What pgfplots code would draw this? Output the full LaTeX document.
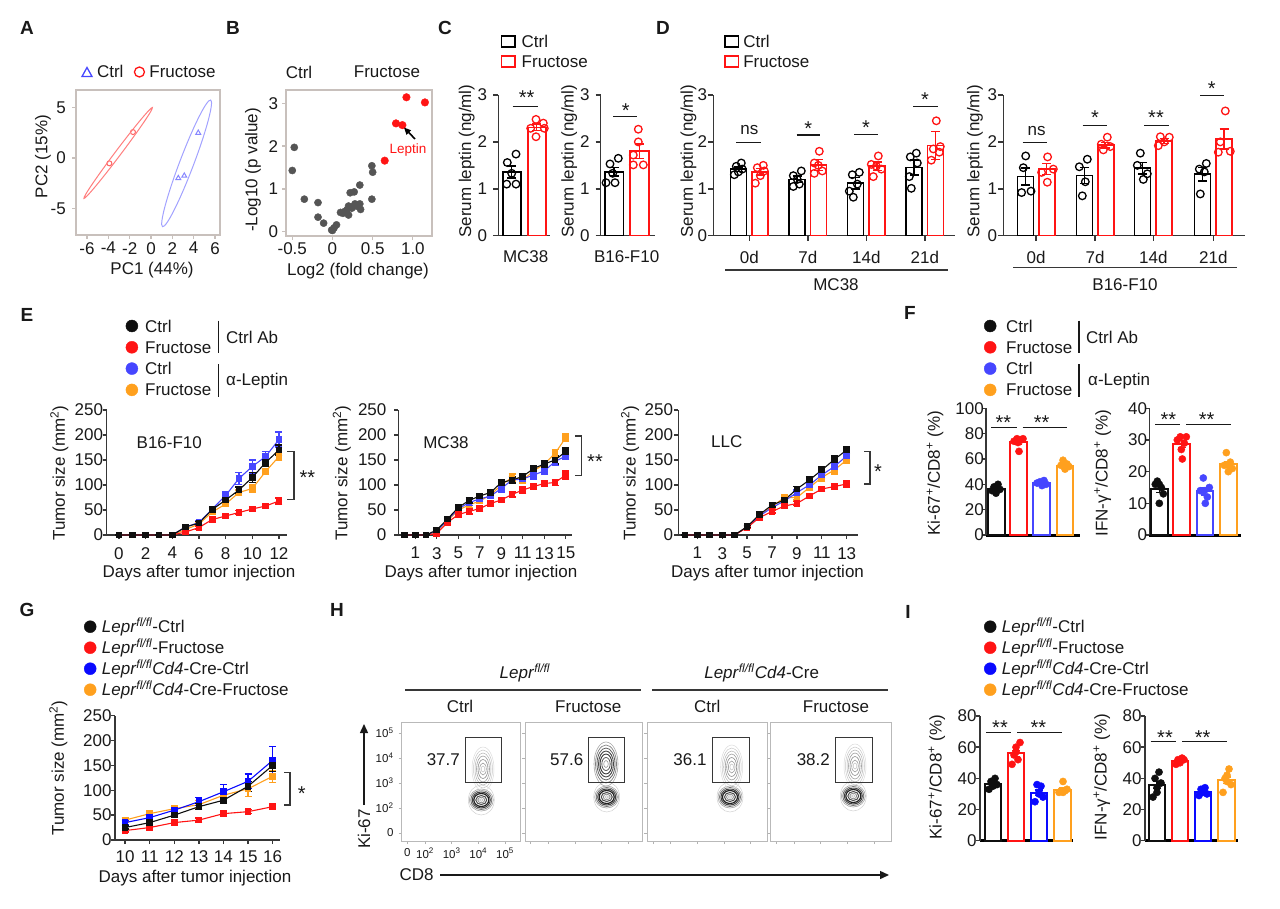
\documentclass[border=0pt]{standalone}
\usepackage{pgfplots}
\usepackage{pgfplotstable}
\pgfplotsset{compat=1.18}
\usepackage{fontspec}
\setmainfont{Liberation Sans}
\usetikzlibrary{arrows.meta}

\definecolor{cR}{RGB}{255,20,20}
\definecolor{cB}{RGB}{70,70,255}
\definecolor{cB2}{RGB}{10,10,255}
\definecolor{cO}{RGB}{255,160,30}
\definecolor{cK}{RGB}{15,15,15}
\definecolor{axc}{RGB}{55,55,55}
\definecolor{frc}{RGB}{200,192,188}
\definecolor{txt}{RGB}{25,25,25}
\definecolor{ptg}{RGB}{85,85,85}

\newcommand\fs{\fontsize{17}{20}\selectfont}
\newcommand\fsm{\fontsize{13.5}{16}\selectfont}
\newcommand\fst{\fontsize{11.5}{13}\selectfont}
\newcommand\fsl{\fontsize{19}{22}\selectfont\bfseries}
\newcommand\fsa{\fontsize{20}{22}\selectfont}

\pgfplotsset{
  every axis/.append style={scale only axis, clip=false, anchor=south west,
    /pgf/number format/assume math mode=true,
    tick label style={font=\fs, text=txt, inner sep=1pt},
    label style={font=\fs, text=txt}},
  yl/.style 2 args={ylabel style={at={(axis description cs:#1,#2)}, anchor=center}},
  xl/.style 2 args={xlabel style={at={(axis description cs:#1,#2)}, anchor=center}},
  barax/.style={axis x line*=bottom, axis y line*=left, axis line style={-, line width=1.5pt, axc},
    tick style={line width=1.5pt, axc}, tick align=outside, major tick length=5pt,
    xmin=0, ymin=0, xtick=\empty},
  fax/.style={axis x line*=bottom, axis y line*=left, axis line style={-, line width=1.5pt, axc},
    x axis line style={line width=3pt, black}, tick style={line width=1.5pt, axc}, tick align=outside,
    major tick length=4pt, xmin=0, ymin=0, xtick=\empty},
  curax/.style={axis x line*=bottom, axis y line*=left, axis line style={-, line width=1.5pt, axc},
    tick style={line width=1.3pt, axc}, tick align=outside, major tick length=4pt,
    ymin=0, ymax=250, ytick={0,50,...,250}},
  boxax/.style={axis line style={line width=1.3pt, frc}, tick style={line width=1.2pt, frc},
    tick align=outside, major tick length=4pt, tick pos=left},
  flowax/.style={xmin=0, ymin=0, ymax=119, height=119pt, axis line style={line width=1pt, gray!55},
    tick style={line width=0.8pt, gray!60}, tick align=outside, major tick length=3pt, tick pos=left,
    xtick={5.6,23.3,50,76.6,103.3}, ytick={8,33,58,83,108}, xticklabels={}, yticklabels={}},
  legax/.style={hide axis, width=1pt, height=1pt, xmin=0, xmax=1, ymin=0, ymax=1, anchor=north west,
    legend cell align=left,
    legend style={at={(0,1)}, anchor=north west, draw=none, fill=none, inner sep=0pt, outer sep=0pt,
      font=\fs, text=txt, row sep=#1, nodes={inner sep=0pt, text height=13pt, text depth=1pt}}},
  cbar/.style={ybar, bar shift=0pt, draw=#1, fill=white, line width=1.6pt,
    error bars/.cd, y dir=both, y explicit, error bar style={line width=1.5pt, #1},
    error mark options={rotate=90, mark size=4.5pt, line width=1.5pt, #1}},
  cpts/.style={only marks, mark=o, mark size=3.8pt, color=#1, mark options={line width=1.3pt}},
  fbar/.style={ybar, bar width=16.5, bar shift=0pt, draw=#1, fill=white, line width=2pt,
    error bars/.cd, y dir=both, y explicit, error bar style={line width=1.5pt, #1},
    error mark options={rotate=90, mark size=4pt, line width=1.5pt, #1}},
  fpts/.style={only marks, mark=*, mark size=3.6pt, color=#1, mark options={fill=#1, draw=#1}},
  cur/.style={color=#1, line width=1.1pt, mark=square*, mark size=2.8pt, mark options={solid, fill=#1, draw=#1},
    error bars/.cd, y dir=both, y explicit, error bar style={line width=1.4pt, #1},
    error mark options={rotate=90, mark size=3.5pt, line width=1.4pt, #1}},
}

\newcommand\lgC[2]{\addlegendimage{legend image code/.code={\path[draw=none,fill=none] (0pt,0pt) -- (#2,0pt); \fill[#1] (6pt,0pt) circle[radius=6pt];}}}
\newcommand\lgS[2]{\addlegendimage{legend image code/.code={\path[draw=none,fill=none] (0pt,0pt) -- (#2,0pt); \draw[#1, line width=1.6pt] (0.8pt,-5.5pt) rectangle (14.2pt,5.5pt);}}}

\newcommand\upL[2]{%
 \draw[black!14, line width=0.5pt] (axis cs:#1,#2) ellipse [x radius=11, y radius=22];
 \draw[black!22, line width=0.5pt] (axis cs:#1,#2) ellipse [x radius=9.5, y radius=19];
 \draw[black!30, line width=0.5pt] (axis cs:#1,#2) ellipse [x radius=8, y radius=16];
 \draw[black!38, line width=0.6pt] (axis cs:#1,#2) ellipse [x radius=6.5, y radius=13];
 \draw[black!45, line width=0.6pt] (axis cs:#1,#2) ellipse [x radius=5, y radius=9.5];
 \draw[black!38, line width=0.6pt] (axis cs:#1,#2) ellipse [x radius=3.3, y radius=6];
 \draw[black!22, line width=0.6pt] (axis cs:#1,#2) ellipse [x radius=1.8, y radius=3];}
\newcommand\upD[2]{%
 \draw[black!35, line width=0.6pt] (axis cs:#1,#2) ellipse [x radius=12, y radius=22];
 \draw[black!50, line width=0.7pt] (axis cs:#1,#2) ellipse [x radius=10.5, y radius=19];
 \draw[black!62, line width=0.8pt] (axis cs:#1,#2) ellipse [x radius=9, y radius=16];
 \draw[black!72, line width=0.9pt] (axis cs:#1,#2) ellipse [x radius=7.5, y radius=13];
 \draw[black!78, line width=0.9pt] (axis cs:#1,#2) ellipse [x radius=6, y radius=10];
 \draw[black!65, line width=0.8pt] (axis cs:#1,#2) ellipse [x radius=4.2, y radius=6.5];
 \draw[black!40, line width=0.6pt] (axis cs:#1,#2) ellipse [x radius=2.3, y radius=3.5];}
\newcommand\lowC[2]{%
 \draw[black!18, line width=0.5pt] (axis cs:#1,#2) ellipse [x radius=13, y radius=15];
 \draw[black!35, line width=0.6pt] (axis cs:#1,#2) ellipse [x radius=12, y radius=11];
 \draw[black!55, line width=0.8pt] (axis cs:#1,#2) ellipse [x radius=10.5, y radius=9.5];
 \draw[black!75, line width=1pt] (axis cs:#1,#2) ellipse [x radius=9, y radius=8];
 \draw[black!88, line width=1.2pt] (axis cs:#1,#2) ellipse [x radius=7.5, y radius=6.5];
 \draw[black!70, line width=1pt] (axis cs:#1,#2) ellipse [x radius=5.5, y radius=4.5];
 \draw[black!45, line width=0.8pt] (axis cs:#1,#2) ellipse [x radius=3.5, y radius=2.8];
 \draw[black!25, line width=0.6pt] (axis cs:#1,#2) ellipse [x radius=1.8, y radius=1.4];}

\pgfplotstableread{
d k ke r re b be o oe
0 0 0 0 0 0 0 0 0
1 0 0 0 0 0 0 0 0
2 0 0 0 0 0 0 0 0
3 0 0 0 0 0 0 0 0
4 0 0 0 0 0 0 0 0
5 16 2 6 2 16 2 11 2
6 24 3 15 3 25 3 22 3
7 51 4 31 3 52 4 46 4
8 70 6 38 3 79 7 62 5
9 90 6 45 4 113 12 85 5
10 115 10 52 5 137 13 93 8
11 145 8 58 5 157 10 127 6
12 170 10 68 6 191 15 157 8
}\tEa
\pgfplotstableread{
d k ke r re b be o oe
0 0 0 0 0 0 0 0 0
1 0 0 0 0 0 0 0 0
2 0 0 0 0 0 0 0 0
3 10 2 3 1 8 2 7 2
4 32 3 25 3 30 3 28 3
5 55 4 41 4 52 4 50 4
6 69 5 47 5 65 6 60 5
7 78 5 53 5 72 5 68 5
8 85 5 63 5 78 5 80 5
9 105 6 70 5 93 7 100 6
10 110 6 81 5 110 6 115 7
11 117 6 90 6 112 7 110 6
12 133 6 97 6 120 8 128 6
13 142 7 103 6 128 7 142 7
14 150 8 105 6 147 8 163 8
15 167 8 120 8 158 7 195 8
}\tEb
\pgfplotstableread{
d k ke r re b be o oe
0 0 0 0 0 0 0 0 0
1 0 0 0 0 0 0 0 0
2 0 0 0 0 0 0 0 0
3 0 0 0 0 0 0 0 0
4 0 0 0 0 0 0 0 0
5 17 2 15 2 16 2 16 2
6 41 3 35 3 38 3 38 3
7 60 4 47 3 55 4 57 4
8 70 5 58 4 68 5 75 6
9 92 5 63 4 85 5 75 5
10 110 6 78 5 100 6 95 6
11 130 6 92 5 120 6 115 7
12 151 7 97 5 137 7 130 8
13 170 7 102 6 158 7 150 7
}\tEc
\pgfplotstableread{
d k ke r re b be o oe
10 25 3 19 3 35 4 40 4
11 35 4 25 3 45 5 53 6
12 50 5 35 4 60 6 63 6
13 67 6 40 4 77 8 71 8
14 80 7 53 4 97 15 90 8
15 108 10 57 4 118 15 103 15
16 150 12 67 4 160 28 128 12
}\tG

\begin{document}
\begin{tikzpicture}[x=1pt,y=-1pt,font=\fs]
\color{txt}
\path[use as bounding box] (0,0) rectangle (1280,909);

% ---------------- panel letters
\foreach \l/\px/\py in {A/27/28, B/233/28, C/445/28, D/663/28, E/27/315, F/910/313, G/27/610, H/337/610, I/908/612}
  \node[font=\fsl, inner sep=0pt] at (\px,\py) {\l};

% ---------------- A
\begin{axis}[boxax, at={(76pt,-235pt)}, width=144pt, height=145pt,
  xmin=-7.03, xmax=6.47, ymin=-7.65, ymax=6.76, xtick={-6,-4,...,6}, ytick={-5,0,5},
  xlabel={PC1 (44\%)}, ylabel={PC2 (15\%)}, xl={0.528}{-0.241}, yl={-0.229}{0.54},
  yticklabel style={xshift=-5pt}, xticklabel style={yshift=-2pt}]
\addplot[only marks, mark=o, mark size=2.5pt, cR!65, mark options={line width=1pt}] coordinates {(-1.69,2.58) (-3.9,-0.53)};
\addplot[only marks, mark=triangle, mark size=2.8pt, cB!65, mark options={line width=1pt}] coordinates {(4.43,2.5) (2.56,-2.0) (3.12,-1.76)};
\coordinate (Ar) at (axis cs:-3.08,0.5);
\coordinate (Ab) at (axis cs:3.34,-0.53);
\end{axis}
\draw[cR!55, line width=1pt, rotate around={53:(Ar)}] (Ar) ellipse [x radius=56.8, y radius=2.8];
\draw[cB!50, line width=1pt, rotate around={69.2:(Ab)}] (Ab) ellipse [x radius=67.7, y radius=7];
\begin{axis}[legax=0pt, at={(81pt,-65pt)}, legend columns=2]
\addlegendimage{legend image code/.code={\path[draw=none,fill=none] (0pt,0pt) -- (16pt,0pt); \draw[cB, line width=1.3pt] (1pt,-4.5pt) -- (11pt,-4.5pt) -- (6pt,4.5pt) -- cycle;}}
\addlegendentry{Ctrl}
\addlegendimage{legend image code/.code={\path[draw=none,fill=none] (-10pt,0pt) -- (16pt,0pt); \draw[cR, line width=1.3pt] (6pt,0pt) circle[radius=5pt];}}
\addlegendentry{Fructose}
\end{axis}

% ---------------- B
\begin{axis}[boxax, at={(286pt,-236pt)}, width=146pt, height=146pt,
  xmin=-0.578, xmax=1.238, ymin=-0.1, ymax=3.31, xtick={-0.5,0,0.5,1}, xticklabels={-0.5,0,0.5,1.0},
  ytick={0,1,2,3}, xlabel={Log2 (fold change)}, ylabel={-Log10 (p value)}, xl={0.493}{-0.240}, yl={-0.226}{0.452},
  yticklabel style={xshift=-2.7pt}, xticklabel style={yshift=-1.2pt}]
\addplot[only marks, mark=*, mark size=3.6pt, ptg] coordinates {
(-0.475,1.97) (-0.50,1.43) (-0.35,0.76) (-0.18,0.68) (-0.18,0.34) (-0.11,0.20) (-0.01,0.04) (0.02,0.09)
(0.05,0.16) (0.13,0.43) (0.18,0.51) (0.20,0.60) (0.22,0.91) (0.27,0.93) (0.24,0.55) (0.28,0.65)
(0.34,1.09) (0.34,0.65) (0.35,0.52) (0.20,0.39) (0.49,1.54) (0.50,1.39) (0.49,0.76) (0.15,0.47)
(0.25,0.58) (0.30,0.60) (0.10,0.45) (0.00,0.03)};
\addplot[only marks, mark=*, mark size=3.8pt, cR] coordinates {(0.65,1.66) (0.79,2.53) (0.87,2.49) (0.92,3.14) (1.15,3.02)};
\end{axis}
\node[inner sep=0pt] at (299,72) {Ctrl};
\node[inner sep=0pt] at (387,72) {Fructose};
\node[inner sep=0pt, font=\fsm, text=cR] at (408,150) {Leptin};
\draw[-{Triangle[length=7pt,width=6pt]}, line width=1.6pt, black] (415,139) -- (404,127.5);

% ---------------- C
\begin{axis}[legax=6pt, at={(500.7pt,-34.7pt)}]
\lgS{black}{21pt}\addlegendentry{Ctrl}
\lgS{cR}{21pt}\addlegendentry{Fructose}
\end{axis}
\begin{axis}[barax, at={(498.3pt,-235.7pt)}, width=52pt, height=140.7pt, xmax=52, ymax=3, ytick={0,1,2,3},
  ylabel={Serum leptin (ng/ml)}, yl={-0.608}{0.53}, xlabel={MC38}, xl={0.527}{-0.149}, yticklabel style={xshift=-5pt}]
\addplot[bar width=18, cbar=black] coordinates {(13.4,1.36) +- (0,0.13)};
\addplot[bar width=18, cbar=cR] coordinates {(38.4,2.31) +- (0,0.07)};
\addplot[cpts=black] coordinates {(9,1.56) (17.7,1.74) (8.4,1.10) (17.7,1.10) (13.4,1.33)};
\addplot[cpts=cR] coordinates {(37.7,2.48) (45,2.40) (32.4,2.29) (46,2.29) (37.7,2.11)};
\end{axis}
\begin{axis}[barax, at={(600.7pt,-235.7pt)}, width=54pt, height=140.7pt, xmax=54, ymax=3, ytick={0,1,2,3},
  ylabel={Serum leptin (ng/ml)}, yl={-0.581}{0.53}, xlabel={B16-F10}, xl={0.48}{-0.149}, yticklabel style={xshift=-5pt}]
\addplot[bar width=18.5, cbar=black] coordinates {(13.5,1.36) +- (0,0.09)};
\addplot[bar width=18.5, cbar=cR] coordinates {(38.8,1.80) +- (0,0.15)};
\addplot[cpts=black] coordinates {(9.3,1.53) (17.6,1.65) (5.3,1.13) (14.3,1.13) (12,1.33)};
\addplot[cpts=cR] coordinates {(37.6,2.27) (37.6,2.00) (32.6,1.72) (32.6,1.51) (42.6,1.51)};
\end{axis}
\draw[line width=1.5pt] (512.7,106.7) -- (537.7,106.7);
\node[font=\fsa, anchor=base, inner sep=0pt] at (526.7,104.8) {**};
\draw[line width=1.5pt] (613.3,116.7) -- (637.3,116.7);
\node[font=\fsa, anchor=base, inner sep=0pt] at (625.7,117.5) {*};

% ---------------- D
\begin{axis}[legax=6pt, at={(724.2pt,-34.7pt)}]
\lgS{black}{19.1pt}\addlegendentry{Ctrl}
\lgS{cR}{19.1pt}\addlegendentry{Fructose}
\end{axis}
\begin{axis}[barax, at={(713.3pt,-235.7pt)}, width=241.7pt, height=140.7pt, xmax=241.7, ymax=3, ytick={0,1,2,3},
  xtick={36,94.5,153,211.5}, xticklabels={0d,7d,14d,21d}, xticklabel style={yshift=-9pt},
  ylabel={Serum leptin (ng/ml)}, yl={-0.103}{0.53}]
\addplot[bar width=16, cbar=black] coordinates {(25.2,1.42) +- (0,0.05) (83.7,1.20) +- (0,0.07) (142.2,1.12) +- (0,0.12) (200.7,1.45) +- (0,0.16)};
\addplot[bar width=16, cbar=cR] coordinates {(46.8,1.36) +- (0,0.07) (105.3,1.51) +- (0,0.12) (163.8,1.48) +- (0,0.09) (222.3,1.92) +- (0,0.30)};
\addplot[cpts=black] coordinates {(21,1.30) (25,1.36) (29,1.42) (23,1.48) (28,1.55)
 (80,1.05) (86,1.10) (84,1.20) (80,1.28) (88,1.38)
 (140,0.82) (136,0.95) (144,1.10) (139,1.30) (146,1.35)
 (198,1.01) (196,1.26) (204,1.55) (197,1.68) (203,1.76)};
\addplot[cpts=cR] coordinates {(42,1.12) (47,1.28) (51,1.38) (44,1.45) (50,1.50)
 (101,1.33) (109,1.38) (105,1.50) (101,1.55) (106,1.80)
 (160,1.26) (168,1.42) (163,1.48) (158,1.52) (165,1.70)
 (218,1.61) (226,1.78) (220,1.85) (227,1.90) (223,2.45)};
\end{axis}
\begin{axis}[barax, at={(1003.3pt,-235.7pt)}, width=241.7pt, height=140.7pt, xmax=241.7, ymax=3, ytick={0,1,2,3},
  xtick={32.7,91.7,150,210}, xticklabels={0d,7d,14d,21d}, xticklabel style={yshift=-9pt},
  ylabel={Serum leptin (ng/ml)}, yl={-0.117}{0.53}]
\addplot[bar width=16, cbar=black] coordinates {(22,1.26) +- (0,0.18) (81,1.28) +- (0,0.17) (139.3,1.44) +- (0,0.12) (199.3,1.31) +- (0,0.14)};
\addplot[bar width=16, cbar=cR] coordinates {(43.4,1.42) +- (0,0.12) (102.4,1.93) +- (0,0.06) (160.7,2.02) +- (0,0.05) (220.7,2.06) +- (0,0.21)};
\addplot[cpts=black] coordinates {(22.4,1.70) (20,1.45) (18.3,0.92) (27.7,0.95)
 (84,1.63) (76,1.47) (82,1.15) (79,0.85)
 (137,1.76) (134,1.50) (144,1.32) (140,1.20)
 (203,1.54) (196,1.42) (201,1.36) (197,0.89)};
\addplot[cpts=cR] coordinates {(44.3,1.68) (50,1.42) (38.3,1.35) (44,1.14)
 (104,2.10) (98,1.95) (107,1.90) (100,1.83)
 (157,2.11) (166,2.10) (161,2.00) (155,1.92)
 (222,2.66) (217,2.00) (227,1.80) (215,1.78)};
\end{axis}
\node[inner sep=0pt] at (749.3,130) {ns};
\draw[line width=1.5pt] (736,142.7) -- (760.7,142.7);
\node[font=\fsa, anchor=base, inner sep=0pt] at (808.3,135.5) {*};
\draw[line width=1.5pt] (796.7,135) -- (820,135);
\node[font=\fsa, anchor=base, inner sep=0pt] at (866,134.2) {*};
\draw[line width=1.5pt] (854,134.3) -- (878.3,134.3);
\node[font=\fsa, anchor=base, inner sep=0pt] at (925,106.5) {*};
\draw[line width=1.5pt] (913.3,106.7) -- (937.7,106.7);
\node[inner sep=0pt] at (1036.7,131) {ns};
\draw[line width=1.5pt] (1022.7,142.7) -- (1047.3,142.7);
\node[font=\fsa, anchor=base, inner sep=0pt] at (1095,124.8) {*};
\draw[line width=1.5pt] (1082.7,125.7) -- (1107.3,125.7);
\node[font=\fsa, anchor=base, inner sep=0pt] at (1156,124.2) {**};
\draw[line width=1.5pt] (1144.3,125.7) -- (1169,125.7);
\node[font=\fsa, anchor=base, inner sep=0pt] at (1211.7,95.5) {*};
\draw[line width=1.5pt] (1200,95.7) -- (1224,95.7);
\draw[axc, line width=1.5pt] (725,270) -- (948.3,270);
\node[inner sep=0pt] at (836,285) {MC38};
\draw[axc, line width=1.5pt] (1013.3,267.7) -- (1236.7,267.7);
\node[inner sep=0pt] at (1125,285) {B16-F10};

% ---------------- E
\begin{axis}[legax=7.3pt, at={(125.7pt,-319pt)}]
\lgC{cK}{19.3pt}\addlegendentry{Ctrl}
\lgC{cR}{19.3pt}\addlegendentry{Fructose}
\lgC{cB}{19.3pt}\addlegendentry{Ctrl}
\lgC{cO}{19.3pt}\addlegendentry{Fructose}
\end{axis}
\draw[line width=1.3pt] (218.3,320.7) -- (218.3,353.3);
\node[anchor=west, inner sep=0pt] at (226,337.7) {Ctrl Ab};
\draw[line width=1.3pt] (218.3,364) -- (218.3,396.7);
\node[anchor=west, inner sep=0pt] at (226,380.7) {α-Leptin};

\begin{axis}[curax, at={(106.7pt,-535pt)}, width=180pt, height=125pt, xmin=-0.92, xmax=12.58, xtick={0,2,...,12},
  xlabel={Days after tumor injection}, ylabel={Tumor size (mm\textsuperscript{2})}, xl={0.513}{-0.306}, yl={-0.263}{0.494},
  yticklabel style={xshift=1.5pt}, xticklabel style={yshift=-7pt}]
\addplot[cur=cO] table[x=d, y=o, y error=oe] {\tEa};
\addplot[cur=cB] table[x=d, y=b, y error=be] {\tEa};
\addplot[cur=cR] table[x=d, y=r, y error=re] {\tEa};
\addplot[cur=cK] table[x=d, y=k, y error=ke] {\tEa};
\end{axis}
\begin{axis}[curax, at={(398.3pt,-535pt)}, width=173.4pt, height=125pt, xmin=-0.58, xmax=15.55, xtick={1,3,...,15},
  xlabel={Days after tumor injection}, ylabel={Tumor size (mm\textsuperscript{2})}, xl={0.477}{-0.306}, yl={-0.326}{0.494},
  yticklabel style={xshift=-6.7pt}, xticklabel style={yshift=-7pt}]
\addplot[cur=cO] table[x=d, y=o, y error=oe] {\tEb};
\addplot[cur=cB] table[x=d, y=b, y error=be] {\tEb};
\addplot[cur=cR] table[x=d, y=r, y error=re] {\tEb};
\addplot[cur=cK] table[x=d, y=k, y error=ke] {\tEb};
\end{axis}
\begin{axis}[curax, at={(678.3pt,-535pt)}, width=180pt, height=125pt, xmin=-0.53, xmax=13.93, xtick={1,3,...,13},
  xlabel={Days after tumor injection}, ylabel={Tumor size (mm\textsuperscript{2})}, xl={0.496}{-0.306}, yl={-0.268}{0.494},
  yticklabel style={xshift=0pt}, xticklabel style={yshift=-7pt}]
\addplot[cur=cO] table[x=d, y=o, y error=oe] {\tEc};
\addplot[cur=cB] table[x=d, y=b, y error=be] {\tEc};
\addplot[cur=cR] table[x=d, y=r, y error=re] {\tEc};
\addplot[cur=cK] table[x=d, y=k, y error=ke] {\tEc};
\end{axis}
\node[inner sep=0pt] at (169.3,442.7) {B16-F10};
\node[inner sep=0pt] at (446,442.7) {MC38};
\node[inner sep=0pt] at (726.7,441.7) {LLC};
\draw[axc, line width=1.3pt] (287.3,451.7) -- (294,451.7) -- (294,499.3) -- (287.3,499.3);
\node[font=\fsa, anchor=base, inner sep=0pt] at (307.3,484.8) {**};
\draw[axc, line width=1.3pt] (575,436) -- (581.7,436) -- (581.7,475.7) -- (575,475.7);
\node[font=\fsa, anchor=base, inner sep=0pt] at (595,468.2) {**};
\draw[axc, line width=1.3pt] (864,451.7) -- (870,451.7) -- (870,484) -- (864,484);
\node[font=\fsa, anchor=base, inner sep=0pt] at (878,478.5) {*};

% ---------------- F
\begin{axis}[legax=7.3pt, at={(984pt,-319pt)}]
\lgC{cK}{22pt}\addlegendentry{Ctrl}
\lgC{cR}{22pt}\addlegendentry{Fructose}
\lgC{cB}{22pt}\addlegendentry{Ctrl}
\lgC{cO}{22pt}\addlegendentry{Fructose}
\end{axis}
\draw[line width=1.3pt] (1079,320.7) -- (1079,353.3);
\node[anchor=west, inner sep=0pt] at (1086,337.7) {Ctrl Ab};
\draw[line width=1.3pt] (1079,364) -- (1079,397.3);
\node[anchor=west, inner sep=0pt] at (1088,380.7) {α-Leptin};

\begin{axis}[fax, at={(986pt,-535pt)}, width=94pt, height=126.7pt, xmax=94, ymax=100, ytick={0,20,...,100},
  ylabel={Ki-67\textsuperscript{+}/CD8\textsuperscript{+} (\%)}, yl={-0.543}{0.487}, yticklabel style={xshift=3pt}]
\addplot[fbar=cK] coordinates {(10.3,36.5) +- (0,1.2)};
\addplot[fbar=cR] coordinates {(32.3,73.3) +- (0,1.8)};
\addplot[fbar=cB] coordinates {(55.7,41) +- (0,0.6)};
\addplot[fbar=cO] coordinates {(79,54.8) +- (0,1.0)};
\addplot[fpts=cK] coordinates {(6,35) (8,38) (10,33) (12,40) (14,36) (10,37)};
\addplot[fpts=cR] coordinates {(28,74) (31,76) (33,66) (35,75) (37,76) (32,73)};
\addplot[fpts=cB] coordinates {(51,41) (54,42) (56,39) (58,43) (60,40) (55,41)};
\addplot[fpts=cO] coordinates {(75,55) (77,59) (79,52) (81,56) (83,54) (79,53)};
\end{axis}
\begin{axis}[fax, at={(1149.3pt,-535pt)}, width=91.4pt, height=126.7pt, xmax=91.4, ymax=40, ytick={0,10,...,40},
  ylabel={IFN-γ\textsuperscript{+}/CD8\textsuperscript{+} (\%)}, yl={-0.51}{0.487}, yticklabel style={xshift=3pt}]
\addplot[fbar=cK] coordinates {(10.2,14.5) +- (0,1.1)};
\addplot[fbar=cR] coordinates {(32.4,28.7) +- (0,1.1)};
\addplot[fbar=cB] coordinates {(55.7,13.8) +- (0,1.1)};
\addplot[fbar=cO] coordinates {(79,22.3) +- (0,0.8)};
\addplot[fpts=cK] coordinates {(6,16) (8,17) (10,10) (12,15) (14,13) (10,16)};
\addplot[fpts=cR] coordinates {(28,30) (31,31) (33,24) (35,29) (37,31) (32,27)};
\addplot[fpts=cB] coordinates {(51,14) (54,18) (56,10) (58,12) (60,15) (55,14)};
\addplot[fpts=cO] coordinates {(75,22) (77,26) (79,20) (81,23) (83,21) (79,22)};
\end{axis}
\draw[line width=1.5pt] (991,427.7) -- (1016.7,427.7);
\node[font=\fsa, anchor=base, inner sep=0pt] at (1003.3,429.8) {**};
\draw[line width=1.5pt] (1022.7,427.7) -- (1067.3,427.7);
\node[font=\fsa, anchor=base, inner sep=0pt] at (1041.7,429.8) {**};
\draw[line width=1.5pt] (1155,424.3) -- (1180,424.3);
\node[font=\fsa, anchor=base, inner sep=0pt] at (1168.3,426.5) {**};
\draw[line width=1.5pt] (1186,424.3) -- (1231,424.3);
\node[font=\fsa, anchor=base, inner sep=0pt] at (1206.7,426.5) {**};

% ---------------- G
\begin{axis}[legax=7pt, at={(84pt,-619.7pt)}]
\lgC{cK}{17.7pt}\addlegendentry{\textit{Lepr}\textsuperscript{\textit{fl/fl}}-Ctrl}
\lgC{cR}{17.7pt}\addlegendentry{\textit{Lepr}\textsuperscript{\textit{fl/fl}}-Fructose}
\lgC{cB2}{17.7pt}\addlegendentry{\textit{Lepr}\textsuperscript{\textit{fl/fl}}\textit{Cd4}-Cre-Ctrl}
\lgC{cO}{17.7pt}\addlegendentry{\textit{Lepr}\textsuperscript{\textit{fl/fl}}\textit{Cd4}-Cre-Fructose}
\end{axis}
\begin{axis}[curax, at={(115pt,-840pt)}, width=165pt, height=124.3pt, xmin=9.59, xmax=16.3, xtick={10,...,16},
  xlabel={Days after tumor injection}, ylabel={Tumor size (mm\textsuperscript{2})}, xl={0.485}{-0.31}, yl={-0.344}{0.58},
  yticklabel style={xshift=1.7pt}, xticklabel style={yshift=-5.5pt}]
\addplot[cur=cO] table[x=d, y=o, y error=oe] {\tG};
\addplot[cur=cB2] table[x=d, y=b, y error=be] {\tG};
\addplot[cur=cR] table[x=d, y=r, y error=re] {\tG};
\addplot[cur=cK] table[x=d, y=k, y error=ke] {\tG};
\end{axis}
\draw[axc, line width=1.3pt] (284,772.7) -- (290,772.7) -- (290,805) -- (284,805);
\node[font=\fsa, anchor=base, inner sep=0pt] at (301.7,800.5) {*};

% ---------------- H
\node[inner sep=0pt] at (525,673.3) {\textit{Lepr}\textsuperscript{\textit{fl/fl}}};
\draw[axc, line width=1.5pt] (405,690) -- (640.7,690);
\node[inner sep=0pt] at (761.7,673.3) {\textit{Lepr}\textsuperscript{\textit{fl/fl}}\textit{Cd4}-Cre};
\draw[axc, line width=1.5pt] (652.3,690) -- (888.3,690);
\node[inner sep=0pt] at (460,706.7) {Ctrl};
\node[inner sep=0pt] at (588.3,706.7) {Fructose};
\node[inner sep=0pt] at (707.3,706.7) {Ctrl};
\node[inner sep=0pt] at (836,706.7) {Fructose};

\begin{axis}[flowax, at={(401.7pt,-841pt)}, width=118.3pt, xmax=118.3,
  yticklabels={0,10\textsuperscript{2},10\textsuperscript{3},10\textsuperscript{4},10\textsuperscript{5}},
  xticklabels={0,10\textsuperscript{2},10\textsuperscript{3},10\textsuperscript{4},10\textsuperscript{5}},
  tick label style={font=\fst}, yticklabel style={xshift=-4pt}, xticklabel style={yshift=-3pt}]
\lowC{79.6}{41}
\upL{81.3}{72}
\draw[axc, line width=1pt] (axis cs:63.3,58.7) rectangle (axis cs:100,103.3);
\node[inner sep=0pt] at (axis cs:41.6,81) {37.7};
\end{axis}
\begin{axis}[flowax, at={(525pt,-841pt)}, width=117.3pt, xmax=117.3]
\lowC{81.7}{44}
\upD{81}{77}
\draw[axc, line width=1pt] (axis cs:63.3,58.7) rectangle (axis cs:99.3,103.3);
\node[inner sep=0pt] at (axis cs:41.7,81) {57.6};
\end{axis}
\begin{axis}[flowax, at={(647.3pt,-841pt)}, width=120pt, xmax=120]
\lowC{82.7}{44}
\upL{84.4}{74}
\draw[axc, line width=1pt] (axis cs:65,58.7) rectangle (axis cs:101.7,103.3);
\node[inner sep=0pt] at (axis cs:42.7,81) {36.1};
\end{axis}
\begin{axis}[flowax, at={(770.7pt,-841pt)}, width=120.3pt, xmax=120.3]
\lowC{82.6}{45}
\upL{84.3}{75}
\draw[axc, line width=1pt] (axis cs:65,58.7) rectangle (axis cs:101.6,103.3);
\node[inner sep=0pt] at (axis cs:42.6,81) {38.2};
\end{axis}
\draw[-{Triangle[length=9pt,width=8pt]}, line width=1.4pt] (364,805) -- (364,724);
\node[rotate=90, inner sep=0pt] at (364,829) {Ki-67};
\draw[-{Triangle[length=9pt,width=8pt]}, line width=1.4pt] (440,875) -- (889,875);
\node[inner sep=0pt] at (416.7,875) {CD8};

% ---------------- I
\begin{axis}[legax=7pt, at={(984pt,-619.7pt)}]
\lgC{cK}{17.7pt}\addlegendentry{\textit{Lepr}\textsuperscript{\textit{fl/fl}}-Ctrl}
\lgC{cR}{17.7pt}\addlegendentry{\textit{Lepr}\textsuperscript{\textit{fl/fl}}-Fructose}
\lgC{cB2}{17.7pt}\addlegendentry{\textit{Lepr}\textsuperscript{\textit{fl/fl}}\textit{Cd4}-Cre-Ctrl}
\lgC{cO}{17.7pt}\addlegendentry{\textit{Lepr}\textsuperscript{\textit{fl/fl}}\textit{Cd4}-Cre-Fructose}
\end{axis}
\begin{axis}[fax, at={(980pt,-840.7pt)}, width=93.3pt, height=124.7pt, xmax=93.3, ymax=80, ytick={0,20,...,80},
  ylabel={Ki-67\textsuperscript{+}/CD8\textsuperscript{+} (\%)}, yl={-0.464}{0.51}, yticklabel style={xshift=1.7pt}]
\addplot[fbar=cK] coordinates {(13,36.5) +- (0,1.2)};
\addplot[fbar=cR] coordinates {(36,56) +- (0,2)};
\addplot[fbar=cB2] coordinates {(58.8,30.8) +- (0,1.8)};
\addplot[fbar=cO] coordinates {(82.7,32.8) +- (0,1.1)};
\addplot[fpts=cK] coordinates {(9,33) (11,38) (13,35) (15,40) (17,36) (13,37)};
\addplot[fpts=cR] coordinates {(32,49) (34,55) (36,60) (38,52) (40,63) (36,57)};
\addplot[fpts=cB2] coordinates {(55,25) (57,36) (59,30) (61,35) (63,28) (59,31)};
\addplot[fpts=cO] coordinates {(79,31) (81,32) (83,38) (85,32) (87,33) (83,31)};
\end{axis}
\begin{axis}[fax, at={(1145pt,-840.7pt)}, width=93.3pt, height=124.7pt, xmax=93.3, ymax=80, ytick={0,20,...,80},
  ylabel={IFN-γ\textsuperscript{+}/CD8\textsuperscript{+} (\%)}, yl={-0.464}{0.51}, yticklabel style={xshift=1.7pt}]
\addplot[fbar=cK] coordinates {(12.2,35.7) +- (0,2.3)};
\addplot[fbar=cR] coordinates {(35,51.2) +- (0,0.7)};
\addplot[fbar=cB2] coordinates {(58,31.5) +- (0,0.7)};
\addplot[fbar=cO] coordinates {(81.7,38.8) +- (0,2.1)};
\addplot[fpts=cK] coordinates {(8,28) (10,40) (12,34) (14,44) (16,37) (12,31)};
\addplot[fpts=cR] coordinates {(31,49) (33,52) (35,50) (37,53) (39,52) (35,51)};
\addplot[fpts=cB2] coordinates {(54,29) (56,33) (58,31) (60,34) (62,30) (58,32)};
\addplot[fpts=cO] coordinates {(78,31) (80,40) (82,38) (84,46) (86,36) (82,42)};
\end{axis}
\draw[line width=1.5pt] (986,732.3) -- (1011,732.3);
\node[font=\fsa, anchor=base, inner sep=0pt] at (1000,734.2) {**};
\draw[line width=1.5pt] (1017.3,732.3) -- (1062.3,732.3);
\node[font=\fsa, anchor=base, inner sep=0pt] at (1038.3,734.2) {**};
\draw[line width=1.5pt] (1150.7,741.7) -- (1176,741.7);
\node[font=\fsa, anchor=base, inner sep=0pt] at (1165,744.8) {**};
\draw[line width=1.5pt] (1182.3,741.7) -- (1227.3,741.7);
\node[font=\fsa, anchor=base, inner sep=0pt] at (1202.7,744.8) {**};
\end{tikzpicture}
\end{document}
